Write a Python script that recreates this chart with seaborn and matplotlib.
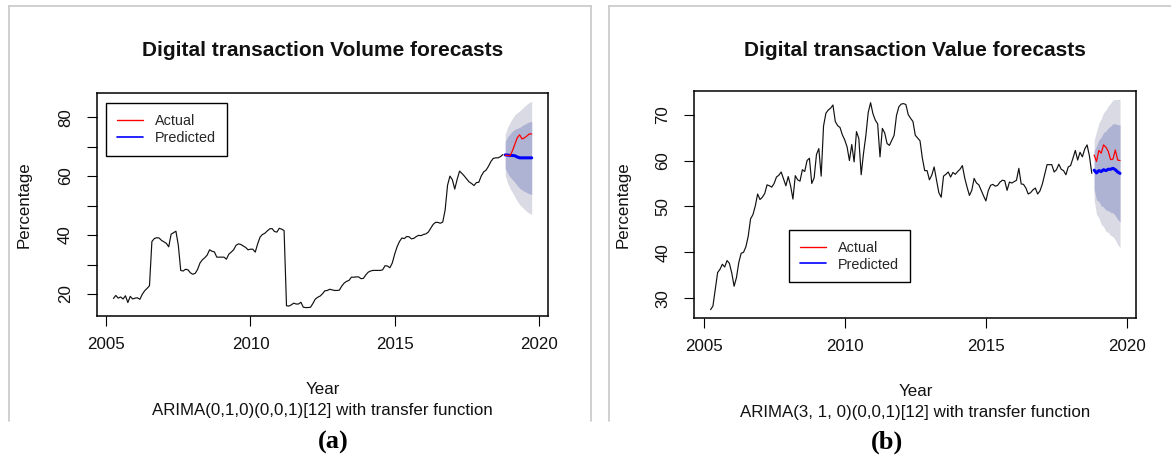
import numpy as np
import pandas as pd
import matplotlib
matplotlib.use("Agg")
import matplotlib.pyplot as plt
import matplotlib.font_manager as fm
from matplotlib.lines import Line2D
import seaborn as sns

# ---------------- data ----------------
start_year = 2005.25          # April 2005, monthly series
vol_hist = [18.5, 19.5, 18.6, 19.0, 18.3, 19.4, 17.1, 19.2, 18.3, 18.6, 18.7, 18.2, 19.9, 21.1, 21.9, 22.8,
            37.8, 38.8, 39.1, 39.0, 38.2, 37.7, 37.2, 36.0, 40.3, 40.8, 41.3, 36.5, 28.0, 27.8, 28.4, 28.2,
            27.2, 26.7, 27.0, 28.3, 30.5, 31.6, 32.3, 33.2, 35.0, 34.5, 34.3, 32.5, 32.5, 32.5, 32.5, 31.8,
            33.5, 34.2, 35.0, 36.5, 37.0, 36.8, 36.3, 35.8, 35.0, 35.2, 35.2, 34.2, 37.0, 39.3, 40.2, 40.6,
            41.4, 42.1, 42.2, 41.2, 41.0, 42.3, 42.0, 41.5, 16.0, 15.9, 16.3, 16.9, 16.6, 16.6, 17.2, 15.5,
            15.4, 15.4, 15.5, 16.8, 18.3, 18.9, 19.3, 20.1, 21.1,
            21.2, 21.6, 21.4, 21.2, 21.2, 21.3, 22.7, 23.7, 24.3, 24.6, 25.7, 25.7, 25.8, 25.8, 25.2, 25.3,
            26.5, 27.4, 27.8, 28.0, 28.0, 28.0, 28.0, 28.2, 29.6, 29.5, 28.9, 30.5, 33.5, 36.0, 37.8, 39.0,
            38.8, 39.5, 39.4, 38.7, 38.9, 39.5, 39.9, 39.8, 40.2, 40.4, 41.0, 42.3, 43.6, 44.3, 44.3, 44.0,
            44.4, 48.5, 56.9, 60.0, 58.8, 55.6, 58.9, 61.7, 60.9, 60.0, 59.0, 58.0, 57.5, 56.8, 57.8, 57.9,
            60.0, 61.4, 62.0, 63.3, 64.9, 66.0, 66.2, 66.2, 66.6, 67.3]
vol_actual = [67.1, 67.0, 66.9, 68.6, 70.8, 73.0, 74.0, 72.6, 73.0, 73.6, 74.3, 74.3]
vol_pred = [67.2, 67.1, 67.0, 67.0, 66.9, 66.5, 66.2, 66.2, 66.2, 66.2, 66.2, 66.2]
vol_up95 = [74.2, 76.6, 78.2, 79.6, 80.8, 81.5, 82.1, 82.9, 83.7, 84.4, 85.0, 85.4]
vol_lo95 = [60.2, 57.6, 55.8, 54.4, 53.0, 51.5, 50.3, 49.5, 48.7, 48.0, 47.4, 47.0]
vol_up80 = [71.7, 73.3, 74.3, 75.2, 75.9, 76.2, 76.5, 77.1, 77.6, 78.0, 78.4, 78.6]
vol_lo80 = [62.7, 60.9, 59.7, 58.8, 57.9, 56.8, 55.9, 55.3, 54.8, 54.4, 54.0, 53.8]

val_hist = [27.5, 28.3, 32.0, 35.6, 36.3, 37.4, 36.8, 38.2, 37.6, 35.5, 32.6, 34.5, 37.8, 39.8, 40.0, 41.2,
            43.5, 47.3, 48.2, 50.1, 52.7, 51.5, 52.0, 52.8, 54.7, 54.5, 54.2, 55.0, 56.4, 56.8, 57.5, 56.0,
            54.5, 56.5, 54.5, 51.6, 56.7, 55.8, 55.5, 58.0, 57.6, 60.0, 60.5, 55.0, 56.2, 61.3, 62.6, 56.6,
            67.5, 70.3, 71.0, 71.4, 72.1, 68.5, 67.6, 67.2, 65.6, 64.5, 63.0, 60.0, 63.5, 59.7, 66.3, 64.8,
            56.9, 61.6, 65.5, 70.5, 72.6, 70.2, 68.8, 68.0, 60.8, 67.0, 66.0, 63.7, 63.3, 64.4, 65.5, 69.8,
            71.7, 72.3, 72.4, 72.2, 70.0, 69.2, 68.5, 65.5, 64.9, 64.3, 60.5, 57.8, 57.8, 55.8, 56.8, 58.6,
            55.8, 53.0, 52.0, 56.6, 57.0, 57.5, 56.4, 57.4, 57.0, 57.6, 58.1, 58.9, 56.2, 54.2, 52.4, 53.5,
            56.1, 55.1, 54.7, 53.5, 52.3, 51.2, 53.4, 54.6, 54.8, 54.4, 54.6, 55.3, 55.7, 55.6, 53.5, 55.3,
            55.1, 55.4, 55.7, 58.3, 54.9, 54.8, 54.0, 52.7, 53.0, 53.6, 54.0, 52.7, 53.4, 54.9, 57.0, 59.1,
            59.1, 59.1, 57.5, 58.0, 59.2, 58.1, 57.8, 56.9, 58.6, 58.9, 60.5, 62.2, 60.1, 61.8, 60.8, 62.5,
            63.4, 61.0, 57.2]
val_actual = [61.2, 59.8, 62.2, 61.6, 63.4, 62.9, 62.0, 60.2, 60.3, 62.3, 60.1, 60.0]
val_pred = [57.9, 57.3, 57.8, 57.6, 58.0, 57.8, 58.1, 58.1, 58.3, 58.0, 57.5, 57.2]
val_up95 = [64.4, 66.3, 68.1, 69.1, 70.4, 71.0, 71.9, 72.5, 73.2, 73.3, 73.3, 73.4]
val_lo95 = [51.4, 48.3, 47.5, 46.1, 45.6, 44.6, 44.3, 43.7, 43.4, 42.7, 41.7, 41.0]
val_up80 = [62.1, 63.2, 64.5, 65.1, 66.1, 66.4, 67.1, 67.5, 68.0, 68.0, 67.8, 67.8]
val_lo80 = [53.7, 51.4, 51.1, 50.1, 49.9, 49.2, 49.1, 48.7, 48.6, 48.0, 47.2, 46.6]

titles = ["Digital transaction Volume forecasts", "Digital transaction Value forecasts"]
subtitles = ["ARIMA(0,1,0)(0,0,1)[12] with transfer function",
             "ARIMA(3, 1, 0)(0,0,1)[12] with transfer function"]
captions = ["(a)", "(b)"]
x_label = "Year"
y_label = "Percentage"
legend_labels = ["Actual", "Predicted"]
x_ticks = [2005, 2010, 2015, 2020]
y_ticks_a = [20, 30, 40, 50, 60, 70, 80]
y_ticklabels_a = ["20", "", "40", "", "60", "", "80"]
y_ticks_b = [30, 40, 50, 60, 70]
y_ticklabels_b = ["30", "40", "50", "60", "70"]

# ---------------- style ----------------
sns.set_theme(style="white")
names = {f.name for f in fm.fontManager.ttflist}
narrow = "Liberation Sans Narrow" in names
if narrow:
    reg_family = ["Liberation Sans Narrow", "DejaVu Sans"]
    fs_reg, fs_leg = 14.3, 12.3
else:
    reg_family = ["Liberation Sans", "DejaVu Sans"]
    fs_reg, fs_leg = 12.2, 10.4
bold_family = ["Liberation Sans", "DejaVu Sans"]
plt.rcParams["font.family"] = reg_family

W, H = 1171, 457
fig = plt.figure(figsize=(W / 100, H / 100), dpi=100)
fig.patch.set_facecolor("white")

def fx(x):
    return x / W

def fy(y):
    return 1 - y / H

OUTER = "#DADAE4"
INNER = "#AEB3D4"

panels = [
    dict(box=(96.7, 93.0, 548.4, 315.8), hist=vol_hist, act=vol_actual, pred=vol_pred,
         u95=vol_up95, l95=vol_lo95, u80=vol_up80, l80=vol_lo80,
         yt=y_ticks_a, ytl=y_ticklabels_a, leg=(0.0208, 0.955), ylab_x=24, cap_x=333),
    dict(box=(694.2, 90.6, 1136.4, 318.1), hist=val_hist, act=val_actual, pred=val_pred,
         u95=val_up95, l95=val_lo95, u80=val_up80, l80=val_lo80,
         yt=y_ticks_b, ytl=y_ticklabels_b, leg=(0.2148, 0.388), ylab_x=623, cap_x=887),
]

for i, p in enumerate(panels):
    x0, y0, x1, y1 = p["box"]
    ax = fig.add_axes([fx(x0), fy(y1), (x1 - x0) / W, (y1 - y0) / H])
    ax.set_facecolor("white")

    n_hist = len(p["hist"])
    n_fc = len(p["pred"])
    t_hist = start_year + np.arange(n_hist) / 12
    t_fc = start_year + (n_hist + np.arange(n_fc)) / 12
    df_h = pd.DataFrame({"Year": t_hist, "Value": p["hist"]})
    df_f = pd.DataFrame({"Year": t_fc, "Actual": p["act"], "Predicted": p["pred"],
                         "u95": p["u95"], "l95": p["l95"], "u80": p["u80"], "l80": p["l80"]})

    sns.lineplot(data=df_h, x="Year", y="Value", color="#111111", linewidth=0.85, ax=ax)
    ax.fill_between(df_f["Year"], df_f["l95"], df_f["u95"], color=OUTER, linewidth=0)
    ax.fill_between(df_f["Year"], df_f["l80"], df_f["u80"], color=INNER, linewidth=0)
    sns.lineplot(data=df_f, x="Year", y="Predicted", color="#0000FF", linewidth=2.2, ax=ax)
    sns.lineplot(data=df_f, x="Year", y="Actual", color="#FF0000", linewidth=0.9, ax=ax)

    # R-style 4% axis padding
    tmin, tmax = t_hist.min(), t_fc.max()
    allv = np.concatenate([p["hist"], p["act"], p["u95"], p["l95"]])
    vmin, vmax = allv.min(), allv.max()
    ax.set_xlim(tmin - 0.04 * (tmax - tmin), tmax + 0.04 * (tmax - tmin))
    ax.set_ylim(vmin - 0.04 * (vmax - vmin), vmax + 0.04 * (vmax - vmin))

    ax.set_xticks(x_ticks)
    ax.set_xticklabels([str(t) for t in x_ticks])
    ax.set_yticks(p["yt"])
    ax.set_yticklabels(p["ytl"], rotation=90, va="center")
    ax.set_xlabel("")
    ax.set_ylabel("")
    ax.tick_params(axis="both", direction="out", length=7, width=0.8, color="black",
                   labelsize=fs_reg, labelcolor="#111111", left=True, bottom=True)
    ax.tick_params(axis="x", pad=8)
    ax.tick_params(axis="y", pad=10)
    for s in ax.spines.values():
        s.set_visible(True)
        s.set_color("black")
        s.set_linewidth(1.1)
    ax.grid(False)

    handles = [Line2D([], [], color="#FF0000", lw=1.0), Line2D([], [], color="#0000FF", lw=1.2)]
    leg = ax.legend(handles, legend_labels, loc="upper left", bbox_to_anchor=p["leg"],
                    borderaxespad=0, frameon=True, fancybox=False, framealpha=1,
                    edgecolor="black", fontsize=fs_leg, handlelength=1.8, handletextpad=0.85,
                    labelspacing=0.2, borderpad=0.75)
    leg.get_frame().set_linewidth(1.0)

    cx = (x0 + x1) / 2
    fig.text(fx(cx), fy(50), titles[i], ha="center", va="center", fontsize=15,
             fontweight="bold", family=bold_family, color="#111111")
    fig.text(fx(cx), fy(389 + 2 * i), x_label, ha="center", va="center", fontsize=fs_reg,
             color="#111111")
    fig.text(fx(cx), fy(410 + 2 * i), subtitles[i], ha="center", va="center", fontsize=fs_reg,
             color="#111111")
    fig.text(fx(p["ylab_x"]), fy((y0 + y1) / 2), y_label, ha="center", va="center",
             rotation=90, fontsize=fs_reg, color="#111111")
    fig.text(fx(p["cap_x"]), fy(442), captions[i], ha="center", va="center", fontsize=19,
             fontweight="bold", family=["Liberation Serif", "DejaVu Serif"], color="black")

# window-frame lines of the two screenshots
GR = "#C8C8C8"
for (xa, xb) in [(9, 591), (609, 1171)]:
    fig.add_artist(Line2D([fx(xa), fx(xb)], [fy(6), fy(6)], color=GR, lw=1.2))
for xv in [9, 591, 609]:
    fig.add_artist(Line2D([fx(xv), fx(xv)], [fy(6), fy(421)], color=GR, lw=1.2))

fig.savefig("out.png", dpi=100, facecolor="white")
